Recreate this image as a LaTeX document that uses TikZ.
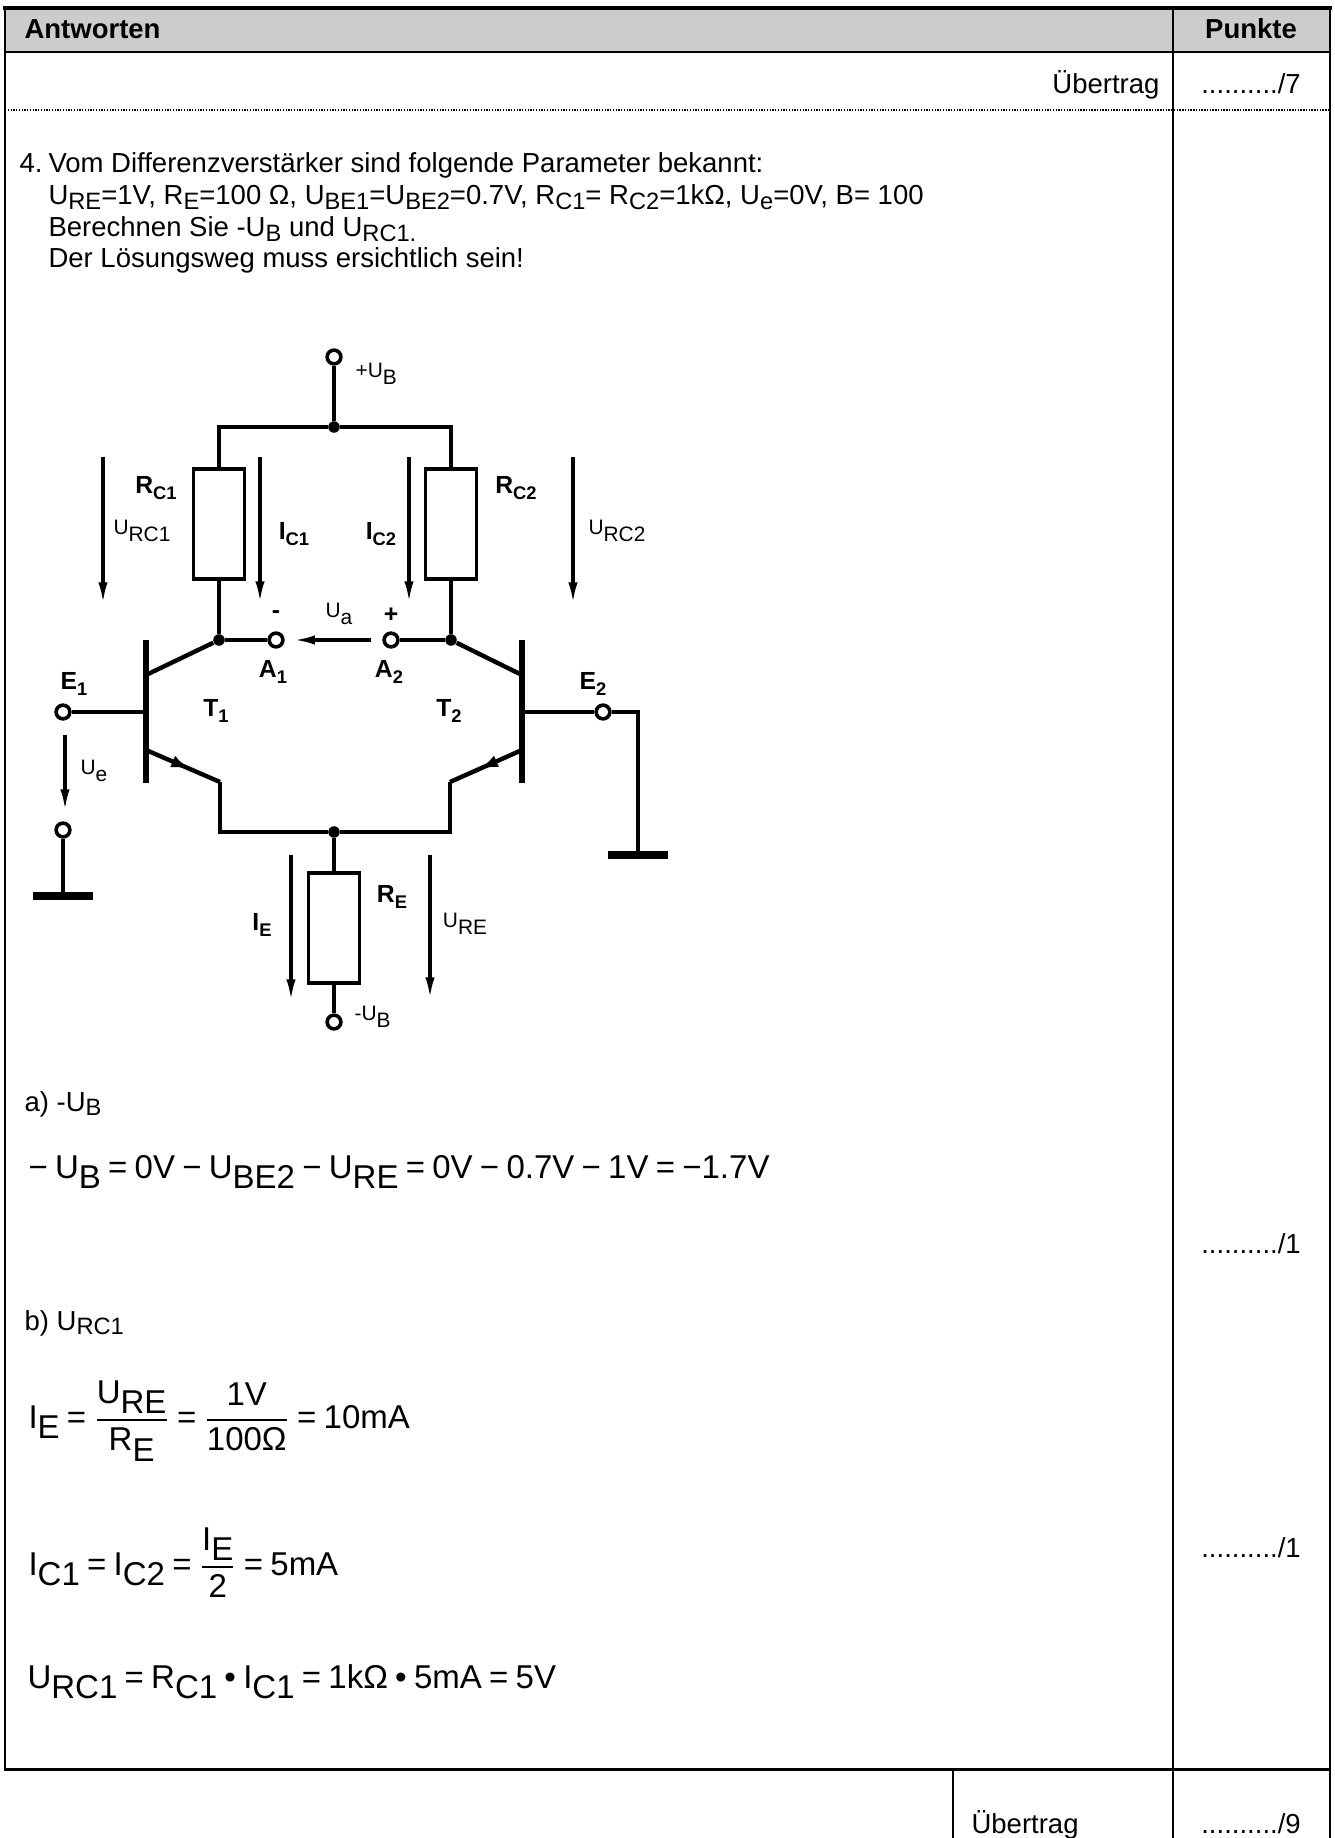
\documentclass[tikz,border=0pt]{standalone}
\usepackage{fontspec}
\setmainfont{Liberation Sans}
\usepackage{amsmath}
\usetikzlibrary{arrows.meta,decorations.markings}

\definecolor{headgray}{gray}{0.8}
\newcommand{\lo}[1]{\raisebox{-0.17em}{\scalebox{0.86}{#1}}}
\newcommand{\elo}[1]{\raisebox{-0.33em}{#1}}
\newcommand{\blo}[1]{\raisebox{-0.22em}{\scalebox{0.74}{\bfseries #1}}}
\newcommand{\frc}[2]{$\genfrac{}{}{0.6pt}{0}{\text{#1}}{\text{#2}}$}
\newcommand{\eqsp}{\spaceskip 0.22em\relax}

\begin{document}
\begin{tikzpicture}[x=0.3636pt,y=-0.3636pt,
  frame/.style={line width=0.9pt},
  txt/.style={anchor=base west,inner sep=0pt,font=\fontsize{10}{12}\selectfont},
  eqn/.style={anchor=base west,inner sep=0pt,font=\fontsize{12}{14}\selectfont\eqsp},
  wire/.style={line width=1.6pt},
  res/.style={draw,line width=1.4pt,minimum width=18.5pt,minimum height=40pt,inner sep=0pt},
  term/.style={circle,draw,fill=white,line width=1.3pt,minimum size=5pt,inner sep=0pt},
  dot/.style={circle,fill,minimum size=4.2pt,inner sep=0pt},
  bar/.style={line width=2.2pt},
  gnd/.style={line width=2.6pt},
  varrow/.style={line width=1.1pt,-{Latex[length=7.5pt,width=3.4pt]}},
  emit/.style={wire,postaction={decorate},decoration={markings,mark=at position 0.6 with {\arrow{Latex[length=7pt,width=4.5pt]}}}},
  lbl/.style={inner sep=0pt,font=\fontsize{9}{10}\selectfont\bfseries},
  vlbl/.style={inner sep=0pt,font=\fontsize{7.6}{9}\selectfont}]
\useasboundingbox (0,0) rectangle (1335,1838);

% table
\fill[headgray] (5,8) rectangle (1330,52);
\draw[line width=1.1pt] (3,8) -- (1332,8);
\draw[frame] (5,8) -- (5,1769);
\draw[frame] (1173,8) -- (1173,1838);
\draw[frame] (1330,8) -- (1330,1838);
\draw[frame] (5,52) -- (1330,52);
\draw[line width=0.5pt,dash pattern=on 0.5pt off 0.5pt] (5,110) -- (1330,110);
\draw[line width=1.1pt] (4,1769) -- (1331,1769);
\draw[frame] (953,1769) -- (953,1838);

\node[txt,font=\fontsize{10}{12}\selectfont\bfseries] (antw) at (24,39) {Antworten};
\node[txt,font=\fontsize{10}{12}\selectfont\bfseries,anchor=base] (punkte) at (1251,39) {Punkte};
\node[txt,anchor=base east] (uebtop) at (1160,94) {Übertrag};
\node[txt,anchor=base] (pt0) at (1251,94) {........../7};

% Aufgabe
\node[txt] (num) at (19,173) {4.};
\node[txt] (q1) at (48,173) {Vom Differenzverstärker sind folgende Parameter bekannt:};
\node[txt] (q2) at (48,205) {U\lo{RE}=1V, R\lo{E}=100 Ω, U\lo{BE1}=U\lo{BE2}=0.7V, R\lo{C1}= R\lo{C2}=1kΩ, U\lo{e}=0V, B= 100};
\node[txt] (q3) at (48,237) {Berechnen Sie -U\lo{B} und U\lo{RC1.}};
\node[txt] (q4) at (48,268) {Der Lösungsweg muss ersichtlich sein!};

% Schaltung
\node[term] (ub) at (334,357) {};
\node[dot] (jt) at (334,427) {};
\node[res] (rc1) at (219,524) {};
\node[res] (rc2) at (451,524) {};
\node[dot] (c1) at (219,640) {};
\node[dot] (c2) at (451,640) {};
\node[term] (a1) at (276,640) {};
\node[term] (a2) at (391,640) {};
\node[term] (in1) at (63,712) {};
\node[term] (g1) at (63,830) {};
\node[term] (in2) at (603,712) {};
\node[dot] (jb) at (334,832) {};
\node[res] (re) at (334,928) {};
\node[term] (vee) at (334,1022) {};
\coordinate (k1) at (146,675);
\coordinate (k2) at (522,675);
\coordinate (e1) at (146,750);
\coordinate (e2) at (522,750);
\coordinate (x1) at (220,782);
\coordinate (x2) at (450,782);
\coordinate (b1) at (146,712);
\coordinate (b2) at (522,712);
\coordinate (gnd1) at (63,896);
\coordinate (gnd2) at (638,855);

\draw[wire] (ub) -- (jt);
\draw[wire] (jt) -| (rc1.north);
\draw[wire] (jt) -| (rc2.north);
\draw[wire] (rc1.south) -- (c1) -- (a1);
\draw[wire] (rc2.south) -- (c2) -- (a2);
\draw[wire] (c1) -- (k1);
\draw[wire] (c2) -- (k2);
\draw[bar] (146,640) -- (146,783);
\draw[bar] (522,640) -- (522,783);
\draw[emit] (e1) -- (x1);
\draw[emit] (e2) -- (x2);
\draw[wire] (x1) |- (jb) -| (x2);
\draw[wire] (jb) -- (re.north);
\draw[wire] (re.south) -- (vee);
\draw[wire] (in1) -- (b1);
\draw[wire] (b2) -- (in2);
\draw[wire] (in2) -| (gnd2);
\draw[wire] (g1) -- (gnd1);
\draw[gnd] ([xshift=-11pt]gnd1) -- ([xshift=11pt]gnd1);
\draw[gnd] ([xshift=-11pt]gnd2) -- ([xshift=11pt]gnd2);
\draw[varrow] ([xshift=-4pt]a2.west) -- ([xshift=3.5pt]a1.east);

% Zaehlpfeile
\foreach \n/\x/\ya/\yb in {urc1/103/457/603, ic1/260/457/602, ic2/409/457/602, urc2/573/457/603, ue/65/735/810, ie/291/855/1000, ure/430/855/998}{
  \coordinate (\n top) at (\x,\ya);
  \coordinate (\n bot) at (\x,\yb);
  \draw[varrow] (\n top) -- (\n bot);
}

\node[vlbl,anchor=west] (lub) at (355,374) {+U\elo{B}};
\node[lbl] (lrc1) at (156,488) {R\blo{C1}};
\node[lbl] (lrc2) at (516,488) {R\blo{C2}};
\node[vlbl] (lurc1) at (142,531) {U\elo{RC1}};
\node[lbl] (lic1) at (294,534) {I\blo{C1}};
\node[lbl] (lic2) at (381,534) {I\blo{C2}};
\node[vlbl] (lurc2) at (617,531) {U\elo{RC2}};
\node[lbl] (minus) at (276,615) {-};
\node[lbl] (plus) at (391,615) {+};
\node[vlbl] (lua) at (339,614) {U\elo{a}};
\node[lbl] (la1) at (273,672) {A\blo{1}};
\node[lbl] (la2) at (389,672) {A\blo{2}};
\node[lbl] (lt1) at (216,711) {T\blo{1}};
\node[lbl] (lt2) at (449,711) {T\blo{2}};
\node[lbl] (le1) at (74,684) {E\blo{1}};
\node[lbl] (le2) at (593,684) {E\blo{2}};
\node[vlbl] (lue) at (94,771) {U\elo{e}};
\node[lbl] (lre) at (392,897) {R\blo{E}};
\node[lbl] (lie) at (262,925) {I\blo{E}};
\node[vlbl] (lure) at (465,924) {U\elo{RE}};
\node[vlbl,anchor=west] (lvee) at (354,1017) {-U\elo{B}};

% Loesung
\node[txt] (parta) at (24,1111) {a) -U\lo{B}};
\node[eqn] (eqa) at (28,1178) {− U\elo{B} = 0V − U\elo{BE2} − U\elo{RE} = 0V − 0.7V − 1V = −1.7V};
\node[txt,anchor=base] (pt1) at (1251,1253) {........../1};
\node[txt] (partb) at (24,1330) {b) U\lo{RC1}};
\node[eqn] (eqie) at (28,1428) {I\elo{E} = \frc{U\elo{RE}}{R\elo{E}} = \frc{1V}{100Ω} = 10mA};
\node[eqn] (eqic) at (28,1575) {I\elo{C1} = I\elo{C2} = \frc{I\elo{E}}{2} = 5mA};
\node[txt,anchor=base] (pt2) at (1251,1557) {........../1};
\node[eqn] (equrc) at (27,1688) {U\elo{RC1} = R\elo{C1} • I\elo{C1} = 1kΩ • 5mA = 5V};
\node[txt] (uebbot) at (971,1833) {Übertrag};
\node[txt,anchor=base] (pt3) at (1251,1833) {........../9};
\end{tikzpicture}
\end{document}
